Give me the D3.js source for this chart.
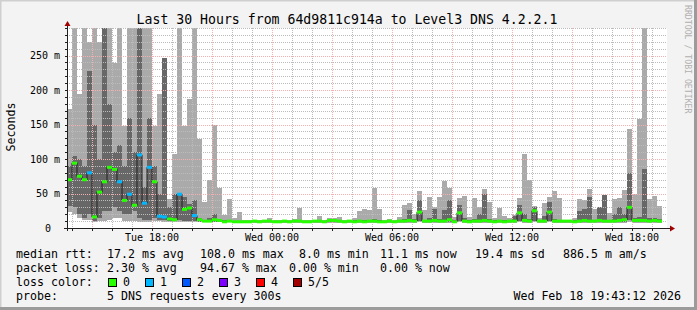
<!DOCTYPE html>
<html>
<head>
<meta charset="utf-8">
<script src="https://cdn.jsdelivr.net/npm/d3@7/dist/d3.min.js"></script>
<style>
body { margin: 0; background: #fff; }
text { font-family: "DejaVu Sans Mono", monospace; white-space: pre; }
</style>
</head>
<body>
<div id="chart"></div>
<script>
// smokeping graph, 30 hours, one bar = 15 min (values in ms)
const startTime = Date.UTC(2026, 1, 17, 13, 45);
const endTime = Date.UTC(2026, 1, 18, 19, 45);
const stepMs = 15 * 60 * 1000;

// smoke: slowest ping (top of light gray)
const pingMax = [172,400,195,400,270,400,270,400,400,239,400,148,400,400,400,400,400,148,194,246,
  42,108,400,148,187,400,129,38,70,149,58,19,42,15,23,12,11,12,11,12,
  14,12,11,12,11,13,29,12,11,12,17,12,14,15,16,12,12,15,25,28,
  26,58,28,12,13,12,16,33,36,20,54,26,45,30,45,68,58,16,43,46,
  16,43,30,57,38,14,29,17,14,19,43,107,70,32,15,36,45,54,43,12,
  12,14,42,40,56,28,30,48,22,42,43,55,143,49,158,400,42,46,32];
// 4th ping (top of dark gray)
const pingHigh = [90,105,100,90,228,150,100,400,180,110,120,90,160,110,400,60,160,90,50,246,
  30,50,50,45,35,40,15,12,15,20,12,11,12,10,10,10,10,11,10,11,
  11,10,10,11,10,11,12,10,10,11,11,10,12,12,12,10,11,11,12,11,
  12,13,11,10,11,10,11,13,26,13,41,12,14,28,13,26,41,11,33,14,
  11,13,20,49,13,11,12,11,11,18,33,20,13,30,11,17,38,13,12,11,
  11,11,25,28,45,12,30,48,12,20,30,20,80,14,16,86,14,15,13];
// median rtt
const medianRtt = [70,94,75,70,80,16,52,67,88,85,67,40,49,33,106,36,88,67,17,16,
  13,12,49,27,29,18,12,10,10,12,11,9,10,9,9,9,9,10,9,10,
  10,9,9,10,9,10,10,9,9,10,10,9,11,11,10,9,10,9,10,9,
  10,10,9,9,10,9,10,10,11,10,23,10,10,11,10,10,12,9,22,10,
  9,10,10,11,10,9,10,9,10,10,22,11,10,25,10,10,23,10,10,10,
  10,9,10,11,10,10,11,10,10,10,11,12,30,11,11,11,10,11,10];
// 2nd ping (bottom of dark gray)
const pingLow = [32,30,20,15,20,10,15,25,25,30,25,20,20,25,15,12,12,15,12,12,
  10,10,12,10,10,10,9,9,9,9,9,8,9,8,8,8,8,8,8,8,
  8,8,8,8,8,8,8,8,8,8,8,8,9,9,8,8,8,8,8,8,
  8,8,8,8,8,8,8,8,9,8,10,8,8,9,8,8,9,8,10,8,
  8,8,8,9,8,8,8,8,8,8,10,9,8,10,8,8,10,8,8,8,
  8,8,8,9,8,8,9,8,8,8,9,9,12,9,9,9,8,9,8];
// fastest ping (bottom of light gray)
const pingMin = [23,20,15,12,12,8,10,10,12,15,15,10,10,10,8,8,8,10,10,8,
  8,8,8,8,8,8,8,8,8,8,8,7,8,7,7,7,7,7,7,7,
  7,7,7,7,7,7,7,7,7,7,7,7,7,7,7,7,7,7,7,7,
  7,7,7,7,7,7,7,7,7,7,8,7,7,7,7,7,7,7,8,7,
  7,7,7,7,7,7,7,7,7,7,8,7,7,8,7,7,8,7,7,7,
  7,7,7,7,7,7,7,7,7,7,7,7,8,7,7,7,7,7,7];
// lost pings out of 5
const lossCount = [0,0,0,0,1,0,0,0,0,0,1,0,1,0,1,1,1,0,1,1,
  0,0,1,0,0,1,0,0,0,0,0,0,0,0,0,0,0,0,0,0,
  0,0,0,0,0,0,0,0,0,0,0,0,0,0,0,0,0,0,0,0,
  0,0,0,0,0,0,0,0,0,0,0,0,0,0,0,0,0,0,0,0,
  0,0,0,0,0,0,0,0,0,0,0,0,0,0,0,0,0,0,0,0,
  0,0,0,0,0,0,0,0,0,0,0,0,0,0,0,0,0,0,0];

const lossLabels = ["0", "1", "2", "3", "4", "5/5"];
const lossColors = ["#26ff00", "#00b8ff", "#0059ff", "#7e00ff", "#ff0000", "#a10000"];

const yTickValues = [0, 50, 100, 150, 200, 250];

const title = "Last 30 Hours from 64d9811c914a to Level3 DNS 4.2.2.1";
const rttItems = ["17.2 ms avg", "108.0 ms max", "8.0 ms min", "11.1 ms now", "19.4 ms sd", "886.5 m am/s"];
const lossItems = ["2.30 % avg", "94.67 % max", "0.00 % min", "0.00 % now"];
const probeText = "5 DNS requests every 300s";
const stampText = "Wed Feb 18 19:43:12 2026";

const width = 697, height = 310;
const plot = { left: 67, right: 667, top: 28, bottom: 228 };

const svg = d3.select("#chart").append("svg")
  .attr("width", width)
  .attr("height", height);

// background + shaded border
svg.append("rect").attr("width", width).attr("height", height).attr("fill", "#f3f3f3");
svg.append("path").attr("d", `M0,${height} V0 H${width}`).attr("fill", "none")
  .attr("stroke", "#cfcfcf").attr("stroke-width", 3);
svg.append("path").attr("d", `M0,${height - 1.5} H${width - 1.5} V0`).attr("fill", "none")
  .attr("stroke", "#9b9b9b").attr("stroke-width", 3);

const x = d3.scaleUtc().domain([startTime, endTime]).range([plot.left, plot.right]);
const y = d3.scaleLinear().domain([0, 290]).range([plot.bottom, plot.top]).clamp(true);

svg.append("rect")
  .attr("x", plot.left).attr("y", plot.top)
  .attr("width", plot.right - plot.left).attr("height", plot.bottom - plot.top)
  .attr("fill", "#fff");

const bars = medianRtt.map((m, i) => ({
  t0: startTime + i * stepMs,
  t1: startTime + (i + 1) * stepMs,
  lo: pingMin[i], p2: pingLow[i], med: m, p4: pingHigh[i], hi: pingMax[i], loss: lossCount[i]
}));

const data = svg.append("g").attr("shape-rendering", "crispEdges");

// light smoke
data.selectAll(".smoke").data(bars).enter().append("rect")
  .attr("x", d => x(d.t0)).attr("width", d => x(d.t1) - x(d.t0))
  .attr("y", d => y(d.hi)).attr("height", d => y(d.lo) - y(d.hi))
  .attr("fill", "#aaaaaa");

// dark smoke
data.selectAll(".smoke2").data(bars).enter().append("rect")
  .attr("x", d => x(d.t0)).attr("width", d => x(d.t1) - x(d.t0))
  .attr("y", d => y(d.p4)).attr("height", d => y(d.p2) - y(d.p4))
  .attr("fill", "#676767");

// grid (drawn over the smoke like rrdtool)
const grid = svg.append("g").attr("shape-rendering", "crispEdges");
const hours = d3.utcHour.range(startTime, endTime + 1);
grid.selectAll(".vmin").data(hours.filter(d => d.getUTCHours() % 3 !== 0)).enter().append("line")
  .attr("x1", d => Math.round(x(d)) + 0.5).attr("x2", d => Math.round(x(d)) + 0.5)
  .attr("y1", plot.top).attr("y2", plot.bottom)
  .attr("stroke", "#bcbcbc").attr("stroke-dasharray", "1,1");
const hMinor = d3.range(10, 291, 10).filter(v => v % 50 !== 0);
grid.selectAll(".hmin").data(hMinor).enter().append("line")
  .attr("x1", plot.left).attr("x2", plot.right)
  .attr("y1", d => Math.round(y(d)) + 0.5).attr("y2", d => Math.round(y(d)) + 0.5)
  .attr("stroke", "#bcbcbc").attr("stroke-dasharray", "1,1");
grid.selectAll(".vmaj").data(hours.filter(d => d.getUTCHours() % 3 === 0)).enter().append("line")
  .attr("x1", d => Math.round(x(d)) + 0.5).attr("x2", d => Math.round(x(d)) + 0.5)
  .attr("y1", plot.top).attr("y2", plot.bottom)
  .attr("stroke", "#f4b0b0").attr("stroke-dasharray", "1,1");
grid.selectAll(".hmaj").data(yTickValues.filter(v => v > 0)).enter().append("line")
  .attr("x1", plot.left).attr("x2", plot.right)
  .attr("y1", d => Math.round(y(d)) + 0.5).attr("y2", d => Math.round(y(d)) + 0.5)
  .attr("stroke", "#f4b0b0").attr("stroke-dasharray", "1,1");

// median: thin dark step line, then loss coloured segments
const medPts = bars.map(d => [x(d.t0), y(d.med)]);
medPts.push([x(bars[bars.length - 1].t1), y(bars[bars.length - 1].med)]);
svg.append("path")
  .attr("d", d3.line().curve(d3.curveStepAfter)(medPts))
  .attr("fill", "none").attr("stroke", "#202020").attr("stroke-width", 1);

svg.selectAll(".med").data(bars).enter().append("line")
  .attr("x1", d => x(d.t0)).attr("x2", d => x(d.t1))
  .attr("y1", d => y(d.med)).attr("y2", d => y(d.med))
  .attr("stroke", d => lossColors[d.loss]).attr("stroke-width", 3);

// axes
const axis = svg.append("g").attr("shape-rendering", "crispEdges");
axis.append("line").attr("x1", plot.left - 3).attr("x2", plot.right + 4)
  .attr("y1", plot.bottom + 0.5).attr("y2", plot.bottom + 0.5).attr("stroke", "#202020");
axis.append("line").attr("x1", plot.left + 0.5).attr("x2", plot.left + 0.5)
  .attr("y1", plot.bottom + 3).attr("y2", plot.top - 3).attr("stroke", "#202020");
svg.append("path")
  .attr("d", `M${plot.right + 3},${plot.bottom - 2.5} L${plot.right + 8},${plot.bottom + 0.5} L${plot.right + 3},${plot.bottom + 3.5} Z`)
  .attr("fill", "#a00000");
svg.append("path")
  .attr("d", `M${plot.left - 2.5},${plot.top - 2} L${plot.left + 0.5},${plot.top - 7} L${plot.left + 3.5},${plot.top - 2} Z`)
  .attr("fill", "#a00000");

axis.selectAll(".xt").data(hours).enter().append("line")
  .attr("x1", d => Math.round(x(d)) + 0.5).attr("x2", d => Math.round(x(d)) + 0.5)
  .attr("y1", plot.bottom).attr("y2", plot.bottom + 3).attr("stroke", "#202020");
axis.selectAll(".yt").data(d3.range(0, 291, 10)).enter().append("line")
  .attr("x1", plot.left - 2).attr("x2", plot.left)
  .attr("y1", d => Math.round(y(d)) + 0.5).attr("y2", d => Math.round(y(d)) + 0.5)
  .attr("stroke", "#202020");

const fmt = d3.utcFormat("%a %H:%M");
svg.selectAll(".xl").data(hours.filter(d => d.getUTCHours() % 6 === 0)).enter().append("text")
  .attr("x", d => x(d)).attr("y", 241)
  .attr("text-anchor", "middle").attr("font-size", "10px").attr("fill", "#000")
  .text(d => fmt(d));

svg.selectAll(".yl").data(yTickValues).enter().append("text")
  .attr("x", d => d === 0 ? 51 : 60).attr("y", d => y(d) + 3.5)
  .attr("text-anchor", "end").attr("font-size", "10px").attr("fill", "#000")
  .text(d => d === 0 ? "0" : d + " m");

svg.append("text").attr("transform", "translate(15,127) rotate(-90)")
  .attr("text-anchor", "middle").attr("font-size", "11.6px").text("Seconds");

svg.append("text").attr("x", 347).attr("y", 24)
  .attr("text-anchor", "middle").attr("font-size", "13.2px").text(title);

svg.append("text").attr("transform", "translate(685,5) rotate(90)")
  .attr("font-size", "8.2px").attr("fill", "#b0b0b0").text("RRDTOOL / TOBI OETIKER");

// legend
const rttX = [107, 200, 299, 380, 475, 563];
const lossX = [107, 200, 289, 380];
const legend = svg.append("g").attr("font-size", "11.6px");
legend.append("text").attr("x", 16).attr("y", 258).text("median rtt:");
rttItems.forEach((t, i) => legend.append("text").attr("x", rttX[i]).attr("y", 258).text(t));
legend.append("text").attr("x", 16).attr("y", 272).text("packet loss:");
lossItems.forEach((t, i) => legend.append("text").attr("x", lossX[i]).attr("y", 272).text(t));
legend.append("text").attr("x", 16).attr("y", 286).text("loss color:");
lossLabels.forEach((l, i) => {
  const sx = 108 + i * 37;
  legend.append("rect").attr("x", sx + 0.5).attr("y", 278.5).attr("width", 8).attr("height", 8)
    .attr("fill", lossColors[i]).attr("stroke", "#000").attr("shape-rendering", "crispEdges");
  legend.append("text").attr("x", sx + 15).attr("y", 286).text(l);
});
legend.append("text").attr("x", 16).attr("y", 300).text("probe:");
legend.append("text").attr("x", 107).attr("y", 300).text(probeText);
legend.append("text").attr("x", 681).attr("y", 300).attr("text-anchor", "end").text(stampText);
</script>
</body>
</html>
